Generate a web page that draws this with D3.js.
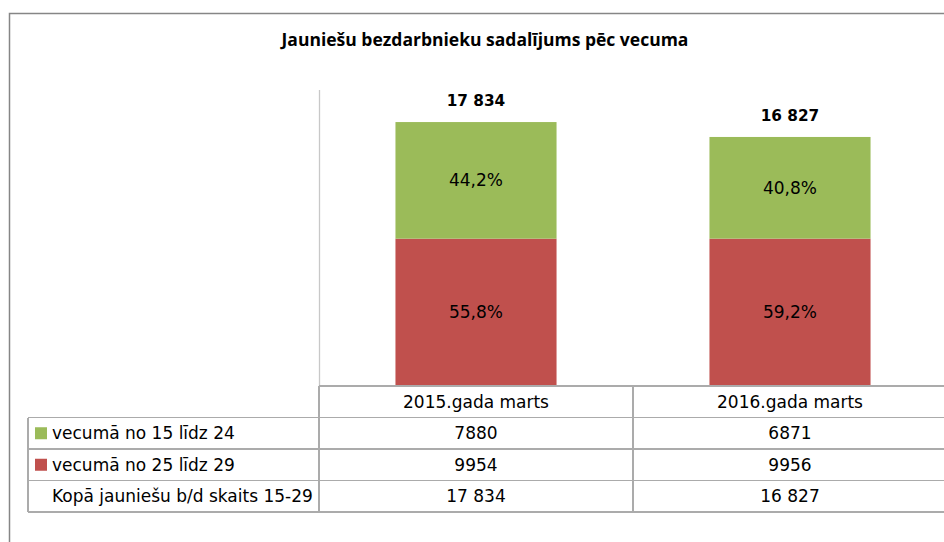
<!DOCTYPE html>
<html>
<head>
<meta charset="utf-8">
<script src="https://cdn.jsdelivr.net/npm/d3@7"></script>
<style>
  html, body { margin: 0; padding: 0; background: #fff; }
  svg { display: block; }
  text { font-family: "DejaVu Sans", "Open Sans", sans-serif; fill: #000; }
  text.title { font-family: "Open Sans", sans-serif; }
</style>
</head>
<body>
<svg id="chart" width="944" height="542"></svg>
<script>
// Datos del gráfico
const categories = ["2015.gada marts", "2016.gada marts"];
const seriesNames = ["vecumā no 15 līdz 24", "vecumā no 25 līdz 29"];
const young = [7880, 6871];   // vecumā no 15 līdz 24
const older = [9954, 9956];   // vecumā no 25 līdz 29
const totals = [17834, 16827];
const totalLabel = "Kopā jauniešu b/d skaits 15-29";
const yMax = 20000;
const title = "Jauniešu bezdarbnieku sadalījums pēc vecuma";

const colors = { young: "#9BBB59", older: "#C0504D" };
const lineColor = "#ABABAB";

// Formato de números: espacio como separador a partir de 5 cifras
const grouped = d3.formatLocale({ decimal: ",", thousands: " ", grouping: [3], currency: ["", ""] }).format(",d");
const fmtNum = n => n >= 10000 ? grouped(n) : String(n);
const fmtPct = v => d3.format(".1f")(v * 100).replace(".", ",") + "%";

const svg = d3.select("#chart");

// Marco exterior
svg.append("rect")
  .attr("x", 9.5).attr("y", 13.5)
  .attr("width", 960).attr("height", 560)
  .attr("fill", "none")
  .attr("stroke", "#868686")
  .attr("stroke-width", 1.5);

// Título
svg.append("text")
  .attr("class", "title")
  .attr("x", 485).attr("y", 46)
  .attr("text-anchor", "middle")
  .style("font-size", "17.5px")
  .style("font-weight", "bold")
  .text(title);

// Escalas
const plotLeft = 319, plotRight = 947, plotTop = 90, plotBottom = 386;

const xCol = d3.scaleBand().domain(categories).range([plotLeft, plotRight]).padding(0);
const xBar = d3.scaleBand().domain(categories).range([plotLeft, plotRight])
  .paddingInner(0.487).paddingOuter(0.2435);
const y = d3.scaleLinear().domain([0, yMax]).range([plotBottom, plotTop]);

// Eje vertical (sin marcas)
svg.append("line")
  .attr("x1", plotLeft + 0.5).attr("x2", plotLeft + 0.5)
  .attr("y1", y(yMax)).attr("y2", y(0))
  .attr("stroke", "#C8C8C8").attr("stroke-width", 1.3);

// Barras apiladas
const rows = categories.map((c, i) => ({ cat: c, older: older[i], young: young[i], total: totals[i] }));
const stack = d3.stack().keys(["older", "young"])(rows);

const layers = svg.selectAll(".layer")
  .data(stack)
  .enter().append("g")
  .attr("class", "layer")
  .attr("fill", d => colors[d.key]);

layers.selectAll("rect")
  .data(d => d)
  .enter().append("rect")
  .attr("x", d => xBar(d.data.cat))
  .attr("width", xBar.bandwidth())
  .attr("y", d => y(d[1]))
  .attr("height", d => y(d[0]) - y(d[1]));

// Porcentajes dentro de cada segmento
layers.each(function (layer) {
  d3.select(this).selectAll("text")
    .data(layer)
    .enter().append("text")
    .attr("x", d => xBar(d.data.cat) + xBar.bandwidth() / 2)
    .attr("y", d => (y(d[0]) + y(d[1])) / 2)
    .attr("dy", "0.36em")
    .attr("text-anchor", "middle")
    .style("font-size", "17px")
    .text(d => fmtPct((d[1] - d[0]) / d.data.total));
});

// Totales sobre las barras
svg.selectAll(".total")
  .data(rows)
  .enter().append("text")
  .attr("class", "total")
  .attr("x", d => xBar(d.cat) + xBar.bandwidth() / 2)
  .attr("y", d => y(d.total) - 16)
  .attr("text-anchor", "middle")
  .style("font-size", "15.3px")
  .style("font-weight", "bold")
  .text(d => fmtNum(d.total));

// Tabla de datos
const tableLeft = 28, tableBottom = 512;
const rowKeys = ["header", "young", "older", "total"];
const yRow = d3.scaleBand().domain(rowKeys).range([plotBottom, tableBottom]);

const grid = svg.append("g")
  .attr("stroke", lineColor)
  .attr("stroke-width", 1.3)
  .attr("shape-rendering", "crispEdges");

// líneas horizontales
grid.append("line")
  .attr("x1", plotLeft).attr("x2", plotRight)
  .attr("y1", yRow("header")).attr("y2", yRow("header"));
rowKeys.slice(1).forEach(k => {
  grid.append("line")
    .attr("x1", tableLeft).attr("x2", plotRight)
    .attr("y1", yRow(k)).attr("y2", yRow(k));
});
grid.append("line")
  .attr("x1", tableLeft).attr("x2", plotRight)
  .attr("y1", tableBottom).attr("y2", tableBottom);

// líneas verticales
grid.append("line")
  .attr("x1", tableLeft).attr("x2", tableLeft)
  .attr("y1", yRow("young")).attr("y2", tableBottom);
categories.forEach(c => {
  grid.append("line")
    .attr("x1", xCol(c)).attr("x2", xCol(c))
    .attr("y1", plotBottom).attr("y2", tableBottom);
});
grid.append("line")
  .attr("x1", plotRight).attr("x2", plotRight)
  .attr("y1", plotBottom).attr("y2", tableBottom);

const mid = k => yRow(k) + yRow.bandwidth() / 2;

// Encabezados de columna
svg.selectAll(".colhead")
  .data(categories)
  .enter().append("text")
  .attr("x", d => xCol(d) + xCol.bandwidth() / 2)
  .attr("y", mid("header"))
  .attr("dy", "0.36em")
  .attr("text-anchor", "middle")
  .style("font-size", "17px")
  .text(d => d);

// Filas
const tableRows = [
  { key: "young", label: seriesNames[0], color: colors.young, values: young },
  { key: "older", label: seriesNames[1], color: colors.older, values: older },
  { key: "total", label: totalLabel, color: null, values: totals }
];

tableRows.forEach(r => {
  if (r.color) {
    svg.append("rect")
      .attr("x", 35).attr("y", mid(r.key) - 6)
      .attr("width", 12).attr("height", 12)
      .attr("fill", r.color);
  }
  svg.append("text")
    .attr("x", 52).attr("y", mid(r.key))
    .attr("dy", "0.36em")
    .style("font-size", "17px")
    .text(r.label);

  svg.selectAll(".cell-" + r.key)
    .data(r.values)
    .enter().append("text")
    .attr("x", (d, i) => xCol(categories[i]) + xCol.bandwidth() / 2)
    .attr("y", mid(r.key))
    .attr("dy", "0.36em")
    .attr("text-anchor", "middle")
    .style("font-size", "17px")
    .text(d => fmtNum(d));
});
</script>
</body>
</html>
